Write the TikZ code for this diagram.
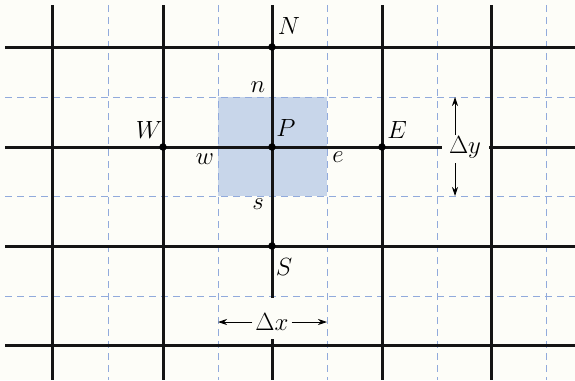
\documentclass[tikz,border=0pt]{standalone}
\usetikzlibrary{arrows.meta}
\definecolor{bgc}{RGB}{253,253,248}
\definecolor{cellc}{RGB}{200,214,234}
\definecolor{dashc}{RGB}{145,170,220}
\begin{document}
\begin{tikzpicture}[x=1pt,y=-1pt,
  gridline/.style={line width=3pt,black!92},
  griddash/.style={draw=dashc,line width=1pt,dash pattern=on 7pt off 5pt},
  pt/.style={circle,fill=black,inner sep=0pt,minimum size=7.5pt},
  lbl/.style={font=\fontsize{23}{27}\selectfont,inner sep=1pt},
  dimarrow/.style={-{Stealth[length=9pt,width=6pt]},line width=0.8pt}]
\useasboundingbox (0,0) rectangle (575,380);
\fill[bgc] (0,0) rectangle (575,380);
\fill[cellc] (218,97) rectangle (327,196);
% dashed grid
\foreach \x in {108,218,327,437,546} \draw[griddash] (\x,5) -- (\x,380);
\foreach \y in {97,196,296} \draw[griddash] (5,\y) -- (575,\y);
% solid grid
\foreach \x in {52,163,382,491} \draw[gridline] (\x,5) -- (\x,380);
\draw[gridline] (272,5) -- (272,298);
\draw[gridline] (272,339) -- (272,380);
\foreach \y in {47,246,345} \draw[gridline] (5,\y) -- (575,\y);
\draw[gridline] (5,147) -- (442,147);
\draw[gridline] (489,147) -- (575,147);
% nodes
\node[pt] (N) at (272,47) {};
\node[pt] (W) at (163,147) {};
\node[pt] (P) at (272,147) {};
\node[pt] (E) at (382,147) {};
\node[pt] (S) at (272,246) {};
% labels
\node[lbl] (lN) at (289,26) {$N$};
\node[lbl] (ln) at (258,87) {$n$};
\node[lbl] (lW) at (149,130) {$W$};
\node[lbl] (lP) at (286,128) {$P$};
\node[lbl] (lE) at (397,130) {$E$};
\node[lbl] (lw) at (205,159) {$w$};
\node[lbl] (le) at (338,157) {$e$};
\node[lbl] (ls) at (258,204) {$s$};
\node[lbl] (lS) at (284,267) {$S$};
% dimensions
\node[lbl] (dy) at (465,147) {$\Delta y$};
\coordinate (dyt0) at (455,135);
\coordinate (dyt) at (455,97);
\coordinate (dyb0) at (455,163);
\coordinate (dyb) at (455,196);
\draw[dimarrow] (dyt0) -- (dyt);
\draw[dimarrow] (dyb0) -- (dyb);
\node[lbl] (dx) at (272,322) {$\Delta x$};
\coordinate (dxl) at (218,322);
\coordinate (dxr) at (327,322);
\draw[dimarrow] ([xshift=-2pt]dx.west) -- (dxl);
\draw[dimarrow] ([xshift=2pt]dx.east) -- (dxr);
\end{tikzpicture}
\end{document}
